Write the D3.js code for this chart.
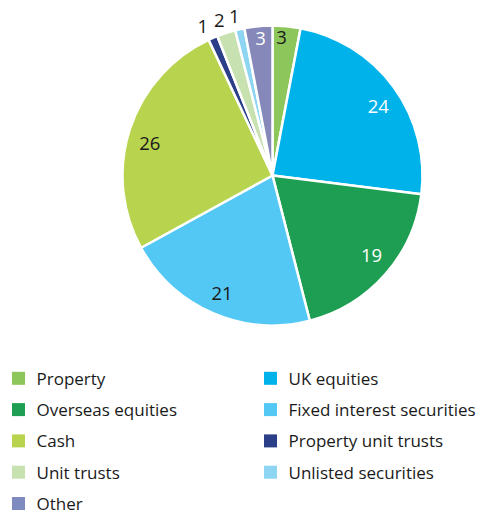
<!DOCTYPE html>
<html>
<head>
<meta charset="utf-8">
<script src="https://cdn.jsdelivr.net/npm/d3@7"></script>
<style>
  html, body { margin: 0; padding: 0; background: #fff; }
  svg { display: block; }
  text { font-family: "Open Sans", "Noto Sans", sans-serif; }
</style>
</head>
<body>
<svg id="chart" width="487" height="514"></svg>
<script>
// Asset allocation (%), in clockwise order from 12 o'clock
const categories = ["Property", "UK equities", "Overseas equities", "Fixed interest securities",
  "Cash", "Property unit trusts", "Unit trusts", "Unlisted securities", "Other"];
const values = [3, 24, 19, 21, 26, 1, 2, 1, 3];
const colors = ["#8dc65a", "#00b2ea", "#1e9e52", "#54c8f4",
  "#b8d44e", "#2a3f87", "#c7e1b1", "#8ed4f3", "#8588b9"];

// Legend layout: two columns, read row by row
const legendOrder = ["Property", "UK equities", "Overseas equities", "Fixed interest securities",
  "Cash", "Property unit trusts", "Unit trusts", "Unlisted securities", "Other"];

const svg = d3.select("#chart");
const cx = 272.5, cy = 175.5, R = 150;

const data = categories.map((c, i) => ({ name: c, value: values[i], color: colors[i] }));

const pie = d3.pie().value(d => d.value).sort(null);
const arcs = pie(data);
const arc = d3.arc().innerRadius(0).outerRadius(R);

const g = svg.append("g").attr("transform", `translate(${cx},${cy})`);

g.selectAll("path.slice")
  .data(arcs)
  .enter().append("path")
  .attr("class", "slice")
  .attr("d", arc)
  .attr("fill", d => d.data.color)
  .attr("stroke", "#fff")
  .attr("stroke-width", 2.5)
  .attr("stroke-linejoin", "round");

// Value labels: large slices inside, thin slices just outside the rim
const whiteLabels = new Set(["UK equities", "Overseas equities", "Other"]);
function labelRadius(v) {
  if (v >= 10) return 127;
  if (v >= 3) return 139;
  return 165;
}
// small angular nudges (degrees) for readability
const labelNudge = {
  "Property": -1.7, "UK equities": 2.4, "Overseas equities": -2.7, "Cash": -3,
  "Property unit trusts": -1.6, "Unit trusts": -0.8, "Unlisted securities": -0.8, "Other": 0.5
};

g.selectAll("text.val")
  .data(arcs)
  .enter().append("text")
  .attr("class", "val")
  .each(function(d) {
    const r = labelRadius(d.data.value);
    const a = (d.startAngle + d.endAngle) / 2 + ((labelNudge[d.data.name] || 0) * Math.PI / 180);
    d3.select(this)
      .attr("x", r * Math.sin(a))
      .attr("y", -r * Math.cos(a))
      .attr("fill", whiteLabels.has(d.data.name) ? "#fff" : "#1a1a1a");
  })
  .attr("text-anchor", "middle")
  .attr("dominant-baseline", "central")
  .attr("font-size", 18.5)
  .text(d => d.data.value);

// Legend
const colX = [12, 264];
const rowY = d3.scaleLinear().domain([0, 4]).range([378.3, 503.5]);
const byName = new Map(data.map(d => [d.name, d]));

const items = svg.append("g").selectAll("g.item")
  .data(legendOrder.map(n => byName.get(n)))
  .enter().append("g")
  .attr("class", "item")
  .attr("transform", (d, i) => `translate(${colX[i % 2]},${rowY(Math.floor(i / 2))})`);

items.append("rect")
  .attr("x", 0).attr("y", -6.5)
  .attr("width", 13).attr("height", 13)
  .attr("fill", d => d.name === "Other" ? "#7f8bc0" : d.color);

items.append("text")
  .attr("x", 24.5)
  .attr("y", 0)
  .attr("dominant-baseline", "central")
  .attr("font-size", 17)
  .attr("fill", "#1a1a1a")
  .text(d => d.name);
</script>
</body>
</html>
